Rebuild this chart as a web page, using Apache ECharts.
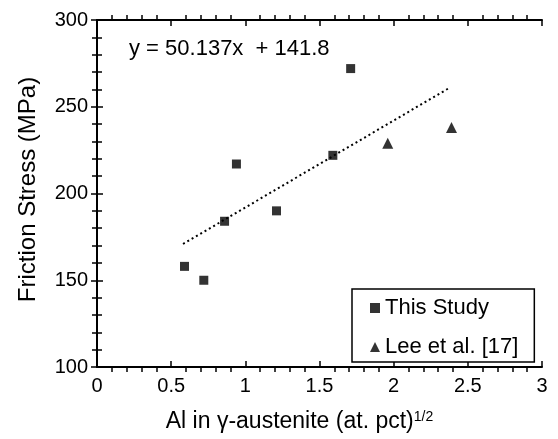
<!DOCTYPE html>
<html>
<head>
<meta charset="utf-8">
<script src="https://cdn.jsdelivr.net/npm/echarts@6/dist/echarts.min.js"></script>
<style>
html,body{margin:0;padding:0;background:#fff;}
#chart{width:558px;height:439px;}
</style>
</head>
<body>
<div id="chart"></div>
<script>
// Data
var thisStudyX = [0.59, 0.72, 0.86, 0.94, 1.21, 1.59, 1.71];
var thisStudyY = [158, 150, 184, 217, 190, 222, 272];
var leeX = [1.96, 2.39];
var leeY = [229, 238];
var trendX = [0.58, 2.38];
var trendY = [170.9, 261.1];
var xTicks = [0, 0.5, 1, 1.5, 2, 2.5, 3];
var yTicks = [100, 150, 200, 250, 300];
var seriesNames = ['This Study', 'Lee et al. [17]'];
var equationText = 'y = 50.137x  + 141.8';

function pairs(xs, ys) { return xs.map(function (x, i) { return [x, ys[i]]; }); }

var FONT = '"Liberation Sans", Arial, sans-serif';
var chart = echarts.init(document.getElementById('chart'), null, { renderer: 'canvas' });

function axisCommon(showLabel) {
  return {
    axisLine: { show: true, lineStyle: { color: '#000', width: 2 } },
    axisTick: { show: true, inside: true, length: 6, lineStyle: { color: '#000', width: 1.5 } },
    minorTick: { show: true, splitNumber: 5, length: -5, lineStyle: { color: '#000', width: 1.5 } },
    splitLine: { show: false },
    axisLabel: { show: showLabel, color: '#000', fontFamily: FONT, fontSize: 20, margin: 9 }
  };
}

var option = {
  animation: false,
  backgroundColor: '#fff',
  grid: { left: 97, right: 16, top: 20, bottom: 72, containLabel: false },
  xAxis: [
    Object.assign(axisCommon(true), {
      type: 'value', min: xTicks[0], max: xTicks[xTicks.length - 1], interval: 0.5,
      position: 'bottom',
      name: '{m|Al in γ-austenite (at. pct)}{s|1/2}',
      nameLocation: 'middle', nameGap: 43,
      nameTextStyle: {
        fontFamily: FONT, color: '#000', padding: [0, 40, 0, 0],
        rich: {
          m: { fontFamily: FONT, fontSize: 23, color: '#000' },
          s: { fontFamily: FONT, fontSize: 14, color: '#000', padding: [0, 0, 10, 0] }
        }
      }
    }),
    Object.assign(axisCommon(false), {
      type: 'value', min: xTicks[0], max: xTicks[xTicks.length - 1], interval: 0.5,
      position: 'top'
    })
  ],
  yAxis: [
    Object.assign(axisCommon(true), {
      type: 'value', min: yTicks[0], max: yTicks[yTicks.length - 1], interval: 50,
      position: 'left',
      name: 'Friction Stress (MPa)',
      nameLocation: 'middle', nameGap: 57,
      nameTextStyle: { fontFamily: FONT, fontSize: 24, color: '#000', padding: [0, 0, 0, 8] }
    }),
    Object.assign(axisCommon(false), {
      type: 'value', min: yTicks[0], max: yTicks[yTicks.length - 1], interval: 50,
      position: 'right'
    })
  ],
  legend: {
    data: seriesNames,
    orient: 'vertical',
    left: 352, top: 289,
    padding: [8, 16, 4, 18],
    itemGap: 17,
    itemWidth: 10, itemHeight: 10,
    borderColor: '#000', borderWidth: 1.5,
    backgroundColor: '#fff',
    textStyle: { fontFamily: FONT, fontSize: 22, color: '#000' }
  },
  graphic: [{
    type: 'text', left: 129, top: 38, z: 10,
    style: { text: equationText, fontFamily: FONT, fontSize: 22, fill: '#000' }
  }],
  series: [
    {
      name: 'trend', type: 'line', data: pairs(trendX, trendY),
      showSymbol: false, symbol: 'none',
      lineStyle: { color: '#000', width: 2, type: [2, 3] },
      z: 1
    },
    {
      name: seriesNames[0], type: 'scatter', data: pairs(thisStudyX, thisStudyY),
      symbol: 'rect', symbolSize: 9,
      itemStyle: { color: '#000' }, z: 3
    },
    {
      name: seriesNames[1], type: 'scatter', data: pairs(leeX, leeY),
      symbol: 'triangle', symbolSize: 11,
      itemStyle: { color: '#000' }, z: 3
    }
  ]
};
chart.setOption(option);
</script>
</body>
</html>
